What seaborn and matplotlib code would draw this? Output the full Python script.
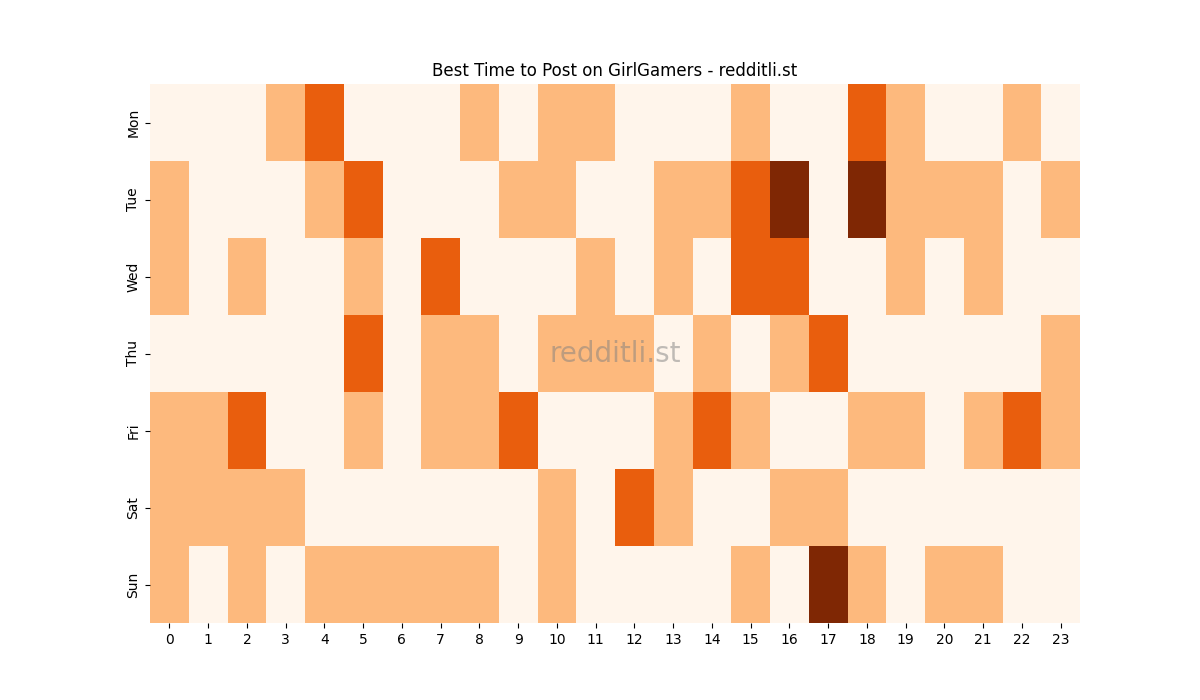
import seaborn as sns
import matplotlib
matplotlib.use("Agg")
import matplotlib.pyplot as plt
import pandas as pd

days = ["Mon", "Tue", "Wed", "Thu", "Fri", "Sat", "Sun"]
hours = list(range(24))

mon = [0, 0, 0, 1, 2, 0, 0, 0, 1, 0, 1, 1, 0, 0, 0, 1, 0, 0, 2, 1, 0, 0, 1, 0]
tue = [1, 0, 0, 0, 1, 2, 0, 0, 0, 1, 1, 0, 0, 1, 1, 2, 3, 0, 3, 1, 1, 1, 0, 1]
wed = [1, 0, 1, 0, 0, 1, 0, 2, 0, 0, 0, 1, 0, 1, 0, 2, 2, 0, 0, 1, 0, 1, 0, 0]
thu = [0, 0, 0, 0, 0, 2, 0, 1, 1, 0, 1, 1, 1, 0, 1, 0, 1, 2, 0, 0, 0, 0, 0, 1]
fri = [1, 1, 2, 0, 0, 1, 0, 1, 1, 2, 0, 0, 0, 1, 2, 1, 0, 0, 1, 1, 0, 1, 2, 1]
sat = [1, 1, 1, 1, 0, 0, 0, 0, 0, 0, 1, 0, 2, 1, 0, 0, 1, 1, 0, 0, 0, 0, 0, 0]
sun = [1, 0, 1, 0, 1, 1, 1, 1, 1, 0, 1, 0, 0, 0, 0, 1, 0, 3, 1, 0, 1, 1, 0, 0]

df = pd.DataFrame([mon, tue, wed, thu, fri, sat, sun], index=days, columns=hours)

fig, ax = plt.subplots(figsize=(12, 7), dpi=100)
sns.heatmap(df, cmap="Oranges", vmin=0, vmax=3, cbar=False, ax=ax)
ax.set_title("Best Time to Post on GirlGamers - redditli.st")
ax.text(0.5, 0.5, "redditli.st", transform=ax.transAxes, fontsize=20,
        color="grey", alpha=0.5, ha="center", va="center")
plt.savefig("out.png")
